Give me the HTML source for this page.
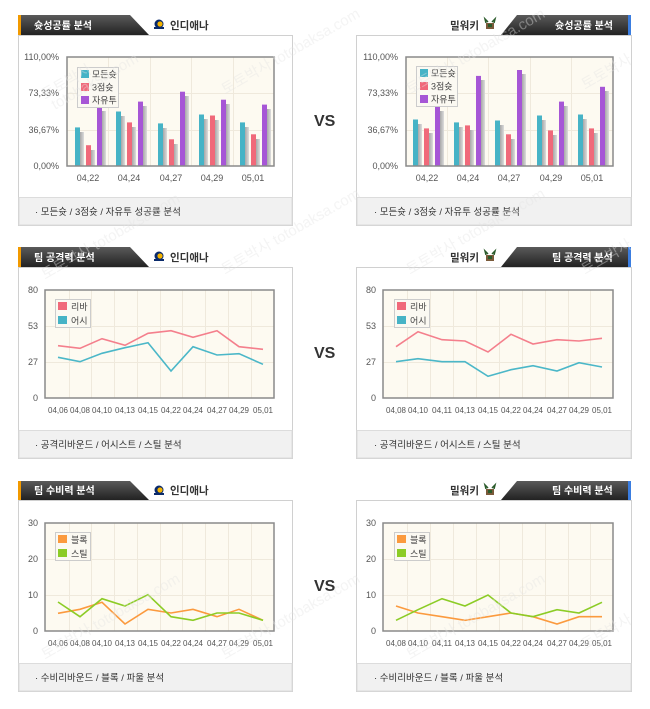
<!DOCTYPE html>
<html><head><meta charset="utf-8"><style>
html,body{margin:0;padding:0;background:#fff;width:650px;height:709px;overflow:hidden}
svg{display:block}
text{font-family:"Liberation Sans","Noto Sans CJK KR",sans-serif}
.ax{font-size:9px;fill:#555}
.axs{font-size:8.5px;fill:#555}
.tb{font-size:10px;font-weight:bold;fill:#fff}
.tm{font-size:10.5px;font-weight:bold;fill:#333}
.ft{font-size:9.5px;fill:#333}
.lg{font-size:9px;fill:#444}
.wm{font-size:15px;fill:#e4e4e4;opacity:.4}
</style></head><body>
<svg width="650" height="709" viewBox="0 0 650 709" xmlns="http://www.w3.org/2000/svg">
<defs>
<linearGradient id="tab" x1="0" y1="0" x2="0" y2="1"><stop offset="0" stop-color="#5a5a5a"/><stop offset="1" stop-color="#222"/></linearGradient>
<linearGradient id="sh" x1="0" y1="0" x2="1" y2="0"><stop offset="0" stop-color="#999"/><stop offset="1" stop-color="#ddd"/></linearGradient>
<g id="ind"><circle cx="5" cy="5" r="4.5" fill="#0a2a6b"/><circle cx="6" cy="5" r="2.6" fill="#f5b400"/><rect x="0" y="8" width="10" height="2" fill="#0a2a6b"/></g>
<g id="mil"><rect x="1" y="4" width="8" height="6" fill="#7a5a3a"/><path d="M1 4 L0 0 L3 3 M9 4 L10 0 L7 3" stroke="#2a5a2a" stroke-width="1.5" fill="none"/><rect x="3" y="5" width="4" height="3" fill="#2a5a2a"/></g>
</defs>
<rect width="650" height="709" fill="#fff"/>

<g stroke="#d0d0d0" fill="#fff">
<rect x="18.5" y="35.5" width="274" height="190"/>
<rect x="356.5" y="35.5" width="275" height="190"/>
<rect x="18.5" y="267.5" width="274" height="191"/>
<rect x="356.5" y="267.5" width="275" height="191"/>
<rect x="18.5" y="500.5" width="274" height="191"/>
<rect x="356.5" y="500.5" width="275" height="191"/>
</g>
<g fill="#f1f1f1" stroke="#dcdcdc">
<rect x="19" y="197.5" width="273" height="27.5"/>
<rect x="357" y="197.5" width="274" height="27.5"/>
<rect x="19" y="430.5" width="273" height="27.5"/>
<rect x="357" y="430.5" width="274" height="27.5"/>
<rect x="19" y="663.5" width="273" height="27.5"/>
<rect x="357" y="663.5" width="274" height="27.5"/>
</g>
<text class="ft" x="35" y="215">·  모든슛 / 3점슛 / 자유투 성공률 분석</text>
<text class="ft" x="374" y="215">·  모든슛 / 3점슛 / 자유투 성공률 분석</text>
<text class="ft" x="35" y="448">· 공격리바운드 / 어시스트 / 스틸 분석</text>
<text class="ft" x="374" y="448">·  공격리바운드 / 어시스트 / 스틸 분석</text>
<text class="ft" x="35" y="681">· 수비리바운드 / 블록 / 파울 분석</text>
<text class="ft" x="374" y="681">·  수비리바운드 / 블록 / 파울 분석</text>

<g>
<polygon points="18,15 130,15 149,35 18,35" fill="url(#tab)"/><rect x="18" y="15" width="3" height="20" fill="#f29a00"/>
<text class="tb" x="34" y="29">슛성공률 분석</text>
<use href="#ind" x="154" y="19"/><text class="tm" x="170" y="29">인디애나</text>
<polygon points="517,15 631,15 631,35 501,35" fill="url(#tab)"/><rect x="628" y="15" width="3" height="20" fill="#3a7de0"/>
<text class="tb" x="555" y="29">슛성공률 분석</text>
<text class="tm" x="450" y="29">밀워키</text><use href="#mil" x="485" y="19"/>

<polygon points="18,247 130,247 149,267 18,267" fill="url(#tab)"/><rect x="18" y="247" width="3" height="20" fill="#f29a00"/>
<text class="tb" x="34" y="261">팀 공격력 분석</text>
<use href="#ind" x="154" y="251"/><text class="tm" x="170" y="261">인디애나</text>
<polygon points="517,247 631,247 631,267 501,267" fill="url(#tab)"/><rect x="628" y="247" width="3" height="20" fill="#3a7de0"/>
<text class="tb" x="552" y="261">팀 공격력 분석</text>
<text class="tm" x="450" y="261">밀워키</text><use href="#mil" x="485" y="251"/>

<polygon points="18,481 130,481 149,500 18,500" fill="url(#tab)"/><rect x="18" y="481" width="3" height="19" fill="#f29a00"/>
<text class="tb" x="34" y="494">팀 수비력 분석</text>
<use href="#ind" x="154" y="485"/><text class="tm" x="170" y="494">인디애나</text>
<polygon points="517,481 631,481 631,500 501,500" fill="url(#tab)"/><rect x="628" y="481" width="3" height="19" fill="#3a7de0"/>
<text class="tb" x="552" y="494">팀 수비력 분석</text>
<text class="tm" x="450" y="494">밀워키</text><use href="#mil" x="485" y="485"/>
</g>

<text x="314" y="126" style="font-size:16px;font-weight:bold;fill:#333">VS</text>
<text x="314" y="358" style="font-size:16px;font-weight:bold;fill:#333">VS</text>
<text x="314" y="591" style="font-size:16px;font-weight:bold;fill:#333">VS</text>

<!-- Chart 1 left -->
<rect x="67" y="57" width="207" height="109" fill="#fdfaf1"/>
<g stroke="#efe9dc" stroke-width="1">
<line x1="67" y1="93.5" x2="274" y2="93.5"/><line x1="67" y1="130.5" x2="274" y2="130.5"/>
<line x1="108.5" y1="57" x2="108.5" y2="166"/><line x1="150.5" y1="57" x2="150.5" y2="166"/><line x1="191.5" y1="57" x2="191.5" y2="166"/><line x1="233.5" y1="57" x2="233.5" y2="166"/>
</g>
<g fill="url(#sh)">
<rect x="79" y="132" width="5" height="34"/><rect x="90" y="150" width="5" height="16"/><rect x="101" y="111" width="5" height="55"/>
<rect x="120" y="116" width="5" height="50"/><rect x="131" y="127" width="5" height="39"/><rect x="142" y="106" width="5" height="60"/>
<rect x="162" y="128" width="5" height="38"/><rect x="173" y="144" width="5" height="22"/><rect x="184" y="96" width="5" height="70"/>
<rect x="203" y="119" width="5" height="47"/><rect x="214" y="120" width="5" height="46"/><rect x="225" y="104" width="5" height="62"/>
<rect x="244" y="127" width="5" height="39"/><rect x="255" y="139" width="5" height="27"/><rect x="266" y="109" width="5" height="57"/>
</g>
<g>
<rect x="75" y="127.4" width="5" height="38.6" fill="#46b3c6"/><rect x="86" y="145.2" width="5" height="20.8" fill="#f0697a"/><rect x="97" y="106.6" width="5" height="59.4" fill="#a656d6"/>
<rect x="116" y="111.5" width="5" height="54.5" fill="#46b3c6"/><rect x="127" y="122.4" width="5" height="43.6" fill="#f0697a"/><rect x="138" y="101.6" width="5" height="64.4" fill="#a656d6"/>
<rect x="158" y="123.4" width="5" height="42.6" fill="#46b3c6"/><rect x="169" y="139.3" width="5" height="26.7" fill="#f0697a"/><rect x="180" y="91.7" width="5" height="74.3" fill="#a656d6"/>
<rect x="199" y="114.5" width="5" height="51.5" fill="#46b3c6"/><rect x="210" y="115.5" width="5" height="50.5" fill="#f0697a"/><rect x="221" y="99.7" width="5" height="66.3" fill="#a656d6"/>
<rect x="240" y="122.4" width="5" height="43.6" fill="#46b3c6"/><rect x="251" y="134.3" width="5" height="31.7" fill="#f0697a"/><rect x="262" y="104.6" width="5" height="61.4" fill="#a656d6"/>
</g>
<rect x="67" y="57" width="207" height="109" fill="none" stroke="#8a8a8a" stroke-width="1.5"/>
<rect x="77.5" y="67.5" width="41" height="40" fill="#fbf9f2" stroke="#ccc"/>
<rect x="81" y="70" width="8" height="8" fill="#46b3c6"/><text class="lg" x="92" y="77.5">모든슛</text>
<rect x="81" y="83" width="8" height="8" fill="#f0697a"/><text class="lg" x="92" y="90.5">3점슛</text>
<rect x="81" y="96" width="8" height="8" fill="#a656d6"/><text class="lg" x="92" y="103.5">자유투</text>
<g class="ax" text-anchor="end"><text x="59" y="60">110,00%</text><text x="59" y="96">73,33%</text><text x="59" y="133">36,67%</text><text x="59" y="169">0,00%</text></g>
<g class="ax" text-anchor="middle"><text x="88" y="181">04,22</text><text x="129" y="181">04,24</text><text x="171" y="181">04,27</text><text x="212" y="181">04,29</text><text x="253" y="181">05,01</text></g>

<!-- Chart 1 right -->
<rect x="406" y="57" width="207" height="109" fill="#fdfaf1"/>
<g stroke="#efe9dc">
<line x1="406" y1="93.5" x2="613" y2="93.5"/><line x1="406" y1="130.5" x2="613" y2="130.5"/>
<line x1="447.5" y1="57" x2="447.5" y2="166"/><line x1="488.5" y1="57" x2="488.5" y2="166"/><line x1="530.5" y1="57" x2="530.5" y2="166"/><line x1="571.5" y1="57" x2="571.5" y2="166"/>
</g>
<g fill="url(#sh)">
<rect x="417" y="124" width="5" height="42"/><rect x="428" y="133" width="5" height="33"/><rect x="439" y="111" width="5" height="55"/>
<rect x="458" y="127" width="5" height="39"/><rect x="469" y="130" width="5" height="36"/><rect x="480" y="80" width="5" height="86"/>
<rect x="499" y="125" width="5" height="41"/><rect x="510" y="139" width="5" height="27"/><rect x="521" y="74" width="5" height="92"/>
<rect x="541" y="120" width="5" height="46"/><rect x="552" y="135" width="5" height="31"/><rect x="563" y="106" width="5" height="60"/>
<rect x="582" y="119" width="5" height="47"/><rect x="593" y="133" width="5" height="33"/><rect x="604" y="91" width="5" height="75"/>
</g>
<g>
<rect x="413" y="119.5" width="5" height="46.5" fill="#46b3c6"/><rect x="424" y="128.4" width="5" height="37.6" fill="#f0697a"/><rect x="435" y="106.6" width="5" height="59.4" fill="#a656d6"/>
<rect x="454" y="122.4" width="5" height="43.6" fill="#46b3c6"/><rect x="465" y="125.4" width="5" height="40.6" fill="#f0697a"/><rect x="476" y="75.9" width="5" height="90.1" fill="#a656d6"/>
<rect x="495" y="120.5" width="5" height="45.5" fill="#46b3c6"/><rect x="506" y="134.3" width="5" height="31.7" fill="#f0697a"/><rect x="517" y="70" width="5" height="96" fill="#a656d6"/>
<rect x="537" y="115.5" width="5" height="50.5" fill="#46b3c6"/><rect x="548" y="130.4" width="5" height="35.6" fill="#f0697a"/><rect x="559" y="101.6" width="5" height="64.4" fill="#a656d6"/>
<rect x="578" y="114.5" width="5" height="51.5" fill="#46b3c6"/><rect x="589" y="128.4" width="5" height="37.6" fill="#f0697a"/><rect x="600" y="86.8" width="5" height="79.2" fill="#a656d6"/>
</g>
<rect x="406" y="57" width="207" height="109" fill="none" stroke="#8a8a8a" stroke-width="1.5"/>
<rect x="416.5" y="66.5" width="41" height="40" fill="#fbf9f2" stroke="#ccc"/>
<rect x="420" y="69" width="8" height="8" fill="#46b3c6"/><text class="lg" x="431" y="76.5">모든슛</text>
<rect x="420" y="82" width="8" height="8" fill="#f0697a"/><text class="lg" x="431" y="89.5">3점슛</text>
<rect x="420" y="95" width="8" height="8" fill="#a656d6"/><text class="lg" x="431" y="102.5">자유투</text>
<g class="ax" text-anchor="end"><text x="398" y="60">110,00%</text><text x="398" y="96">73,33%</text><text x="398" y="133">36,67%</text><text x="398" y="169">0,00%</text></g>
<g class="ax" text-anchor="middle"><text x="427" y="181">04,22</text><text x="468" y="181">04,24</text><text x="509" y="181">04,27</text><text x="551" y="181">04,29</text><text x="592" y="181">05,01</text></g>

<!-- Chart 2 left -->
<rect x="45" y="290" width="229" height="108" fill="#fdfaf1"/>
<g stroke="#efe9dc">
<line x1="45" y1="326.5" x2="274" y2="326.5"/><line x1="45" y1="362.5" x2="274" y2="362.5"/>
<line x1="69.5" y1="290" x2="69.5" y2="398"/><line x1="91.5" y1="290" x2="91.5" y2="398"/><line x1="114.5" y1="290" x2="114.5" y2="398"/><line x1="137.5" y1="290" x2="137.5" y2="398"/><line x1="160.5" y1="290" x2="160.5" y2="398"/><line x1="182.5" y1="290" x2="182.5" y2="398"/><line x1="205.5" y1="290" x2="205.5" y2="398"/><line x1="228.5" y1="290" x2="228.5" y2="398"/><line x1="251.5" y1="290" x2="251.5" y2="398"/>
</g>
<polyline fill="none" stroke="#f47f8c" stroke-width="1.6" points="58,345.7 80,348.3 102,338.7 125,345.3 148,333.3 171,330.7 193,337.3 217,330.7 239,346.7 263,349.3"/>
<polyline fill="none" stroke="#4bb7c8" stroke-width="1.6" points="58,357.3 80,361.7 102,353.3 125,347.7 148,342.7 171,371 193,346.7 217,355 239,353.7 263,364.3"/>
<rect x="45" y="290" width="229" height="108" fill="none" stroke="#8a8a8a" stroke-width="1.5"/>
<rect x="55.5" y="299.5" width="35" height="28" fill="#fbf9f2" stroke="#ccc"/>
<rect x="58" y="302" width="9" height="8" fill="#f0697a"/><text class="lg" x="71" y="310">리바</text>
<rect x="58" y="316" width="9" height="8" fill="#46b3c6"/><text class="lg" x="71" y="324">어시</text>
<g class="ax" text-anchor="end"><text x="38" y="293">80</text><text x="38" y="329">53</text><text x="38" y="365">27</text><text x="38" y="401">0</text></g>
<g class="axs" text-anchor="middle" textLength="20" lengthAdjust="spacingAndGlyphs">
<text x="58" y="413" textLength="20" lengthAdjust="spacingAndGlyphs">04,06</text><text x="80" y="413" textLength="20" lengthAdjust="spacingAndGlyphs">04,08</text><text x="102" y="413" textLength="20" lengthAdjust="spacingAndGlyphs">04,10</text><text x="125" y="413" textLength="20" lengthAdjust="spacingAndGlyphs">04,13</text><text x="148" y="413" textLength="20" lengthAdjust="spacingAndGlyphs">04,15</text><text x="171" y="413" textLength="20" lengthAdjust="spacingAndGlyphs">04,22</text><text x="193" y="413" textLength="20" lengthAdjust="spacingAndGlyphs">04,24</text><text x="217" y="413" textLength="20" lengthAdjust="spacingAndGlyphs">04,27</text><text x="239" y="413" textLength="20" lengthAdjust="spacingAndGlyphs">04,29</text><text x="263" y="413" textLength="20" lengthAdjust="spacingAndGlyphs">05,01</text></g>

<!-- Chart 2 right -->
<rect x="383" y="290" width="230" height="108" fill="#fdfaf1"/>
<g stroke="#efe9dc">
<line x1="383" y1="326.5" x2="613" y2="326.5"/><line x1="383" y1="362.5" x2="613" y2="362.5"/>
<line x1="407.5" y1="290" x2="407.5" y2="398"/><line x1="430.5" y1="290" x2="430.5" y2="398"/><line x1="453.5" y1="290" x2="453.5" y2="398"/><line x1="476.5" y1="290" x2="476.5" y2="398"/><line x1="499.5" y1="290" x2="499.5" y2="398"/><line x1="522.5" y1="290" x2="522.5" y2="398"/><line x1="545.5" y1="290" x2="545.5" y2="398"/><line x1="568.5" y1="290" x2="568.5" y2="398"/><line x1="590.5" y1="290" x2="590.5" y2="398"/>
</g>
<polyline fill="none" stroke="#f47f8c" stroke-width="1.6" points="396,346.7 418,331.7 442,339.7 465,341 488,352 511,334.3 533,344 557,339.7 579,341 602,338.3"/>
<polyline fill="none" stroke="#4bb7c8" stroke-width="1.6" points="396,361.7 418,358.7 442,361.7 465,361.7 488,376.3 511,369.7 533,365.7 557,371 579,362.7 602,367"/>
<rect x="383" y="290" width="230" height="108" fill="none" stroke="#8a8a8a" stroke-width="1.5"/>
<rect x="394.5" y="299.5" width="35" height="28" fill="#fbf9f2" stroke="#ccc"/>
<rect x="397" y="302" width="9" height="8" fill="#f0697a"/><text class="lg" x="410" y="310">리바</text>
<rect x="397" y="316" width="9" height="8" fill="#46b3c6"/><text class="lg" x="410" y="324">어시</text>
<g class="ax" text-anchor="end"><text x="376" y="293">80</text><text x="376" y="329">53</text><text x="376" y="365">27</text><text x="376" y="401">0</text></g>
<g class="axs" text-anchor="middle">
<text x="396" y="413" textLength="20" lengthAdjust="spacingAndGlyphs">04,08</text><text x="418" y="413" textLength="20" lengthAdjust="spacingAndGlyphs">04,10</text><text x="442" y="413" textLength="20" lengthAdjust="spacingAndGlyphs">04,11</text><text x="465" y="413" textLength="20" lengthAdjust="spacingAndGlyphs">04,13</text><text x="488" y="413" textLength="20" lengthAdjust="spacingAndGlyphs">04,15</text><text x="511" y="413" textLength="20" lengthAdjust="spacingAndGlyphs">04,22</text><text x="533" y="413" textLength="20" lengthAdjust="spacingAndGlyphs">04,24</text><text x="557" y="413" textLength="20" lengthAdjust="spacingAndGlyphs">04,27</text><text x="579" y="413" textLength="20" lengthAdjust="spacingAndGlyphs">04,29</text><text x="602" y="413" textLength="20" lengthAdjust="spacingAndGlyphs">05,01</text></g>

<!-- Chart 3 left -->
<rect x="45" y="523" width="229" height="108" fill="#fdfaf1"/>
<g stroke="#efe9dc">
<line x1="45" y1="559.5" x2="274" y2="559.5"/><line x1="45" y1="595.5" x2="274" y2="595.5"/>
<line x1="69.5" y1="523" x2="69.5" y2="631"/><line x1="91.5" y1="523" x2="91.5" y2="631"/><line x1="114.5" y1="523" x2="114.5" y2="631"/><line x1="137.5" y1="523" x2="137.5" y2="631"/><line x1="160.5" y1="523" x2="160.5" y2="631"/><line x1="182.5" y1="523" x2="182.5" y2="631"/><line x1="205.5" y1="523" x2="205.5" y2="631"/><line x1="228.5" y1="523" x2="228.5" y2="631"/><line x1="251.5" y1="523" x2="251.5" y2="631"/>
</g>
<polyline fill="none" stroke="#fb9a3e" stroke-width="1.6" points="58,613.3 80,609.3 102,602.3 125,624 148,609.3 171,613 193,609.3 217,616.7 239,609.3 263,620.3"/>
<polyline fill="none" stroke="#8ccc26" stroke-width="1.6" points="58,602 80,616.7 102,598.7 125,606 148,594.7 171,616.7 193,620.3 217,613 239,613 263,620.3"/>
<rect x="45" y="523" width="229" height="108" fill="none" stroke="#8a8a8a" stroke-width="1.5"/>
<rect x="55.5" y="532.5" width="35" height="28" fill="#fbf9f2" stroke="#ccc"/>
<rect x="58" y="535" width="9" height="8" fill="#fb9a3e"/><text class="lg" x="71" y="543">블록</text>
<rect x="58" y="549" width="9" height="8" fill="#8ccc26"/><text class="lg" x="71" y="557">스틸</text>
<g class="ax" text-anchor="end"><text x="38" y="526">30</text><text x="38" y="562">20</text><text x="38" y="598">10</text><text x="38" y="634">0</text></g>
<g class="axs" text-anchor="middle">
<text x="58" y="646" textLength="20" lengthAdjust="spacingAndGlyphs">04,06</text><text x="80" y="646" textLength="20" lengthAdjust="spacingAndGlyphs">04,08</text><text x="102" y="646" textLength="20" lengthAdjust="spacingAndGlyphs">04,10</text><text x="125" y="646" textLength="20" lengthAdjust="spacingAndGlyphs">04,13</text><text x="148" y="646" textLength="20" lengthAdjust="spacingAndGlyphs">04,15</text><text x="171" y="646" textLength="20" lengthAdjust="spacingAndGlyphs">04,22</text><text x="193" y="646" textLength="20" lengthAdjust="spacingAndGlyphs">04,24</text><text x="217" y="646" textLength="20" lengthAdjust="spacingAndGlyphs">04,27</text><text x="239" y="646" textLength="20" lengthAdjust="spacingAndGlyphs">04,29</text><text x="263" y="646" textLength="20" lengthAdjust="spacingAndGlyphs">05,01</text></g>

<!-- Chart 3 right -->
<rect x="383" y="523" width="230" height="108" fill="#fdfaf1"/>
<g stroke="#efe9dc">
<line x1="383" y1="559.5" x2="613" y2="559.5"/><line x1="383" y1="595.5" x2="613" y2="595.5"/>
<line x1="407.5" y1="523" x2="407.5" y2="631"/><line x1="430.5" y1="523" x2="430.5" y2="631"/><line x1="453.5" y1="523" x2="453.5" y2="631"/><line x1="476.5" y1="523" x2="476.5" y2="631"/><line x1="499.5" y1="523" x2="499.5" y2="631"/><line x1="522.5" y1="523" x2="522.5" y2="631"/><line x1="545.5" y1="523" x2="545.5" y2="631"/><line x1="568.5" y1="523" x2="568.5" y2="631"/><line x1="590.5" y1="523" x2="590.5" y2="631"/>
</g>
<polyline fill="none" stroke="#fb9a3e" stroke-width="1.6" points="396,606 418,613 442,616.7 465,620.3 488,616.7 511,613 533,616.7 557,624 579,616.7 602,616.7"/>
<polyline fill="none" stroke="#8ccc26" stroke-width="1.6" points="396,620.3 418,609.7 442,598.7 465,606 488,595 511,613 533,616.7 557,609.7 579,613 602,602.3"/>
<rect x="383" y="523" width="230" height="108" fill="none" stroke="#8a8a8a" stroke-width="1.5"/>
<rect x="394.5" y="532.5" width="35" height="28" fill="#fbf9f2" stroke="#ccc"/>
<rect x="397" y="535" width="9" height="8" fill="#fb9a3e"/><text class="lg" x="410" y="543">블록</text>
<rect x="397" y="549" width="9" height="8" fill="#8ccc26"/><text class="lg" x="410" y="557">스틸</text>
<g class="ax" text-anchor="end"><text x="376" y="526">30</text><text x="376" y="562">20</text><text x="376" y="598">10</text><text x="376" y="634">0</text></g>
<g class="axs" text-anchor="middle">
<text x="396" y="646" textLength="20" lengthAdjust="spacingAndGlyphs">04,08</text><text x="418" y="646" textLength="20" lengthAdjust="spacingAndGlyphs">04,10</text><text x="442" y="646" textLength="20" lengthAdjust="spacingAndGlyphs">04,11</text><text x="465" y="646" textLength="20" lengthAdjust="spacingAndGlyphs">04,13</text><text x="488" y="646" textLength="20" lengthAdjust="spacingAndGlyphs">04,15</text><text x="511" y="646" textLength="20" lengthAdjust="spacingAndGlyphs">04,22</text><text x="533" y="646" textLength="20" lengthAdjust="spacingAndGlyphs">04,24</text><text x="557" y="646" textLength="20" lengthAdjust="spacingAndGlyphs">04,27</text><text x="579" y="646" textLength="20" lengthAdjust="spacingAndGlyphs">04,29</text><text x="602" y="646" textLength="20" lengthAdjust="spacingAndGlyphs">05,01</text></g>

<g class="wm">
<text transform="translate(45,100) rotate(-30)">토토박사</text><text transform="translate(55,110) rotate(-30)">totobaksa.com</text>
<text transform="translate(225,95) rotate(-30)">토토박사 totobaksa.com</text>
<text transform="translate(410,95) rotate(-30)">토토박사 totobaksa.com</text>
<text transform="translate(585,90) rotate(-30)">토토박사</text>
<text transform="translate(45,280) rotate(-30)">토토박사 totobaksa.com</text>
<text transform="translate(225,275) rotate(-30)">토토박사 totobaksa.com</text>
<text transform="translate(410,275) rotate(-30)">토토박사 totobaksa.com</text>
<text transform="translate(585,275) rotate(-30)">토토박사</text>
<text transform="translate(45,660) rotate(-30)">토토박사 totobaksa.com</text>
<text transform="translate(225,660) rotate(-30)">토토박사 totobaksa.com</text>
<text transform="translate(410,660) rotate(-30)">토토박사 totobaksa.com</text>
<text transform="translate(585,650) rotate(-30)">토토박사</text>
</g>
</svg>
</body></html>
